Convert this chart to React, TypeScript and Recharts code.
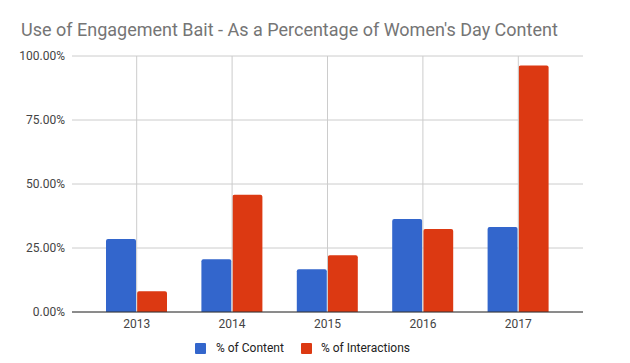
import React from "react";
import { BarChart, Bar, XAxis, YAxis, CartesianGrid, Legend, ReferenceLine } from "recharts";

const years = ["2013", "2014", "2015", "2016", "2017"];
const pctContent = [28.5, 20.6, 16.7, 36.3, 33.2];
const pctInteractions = [8.1, 45.8, 22.2, 32.4, 96.3];
const yTicks = [0, 25, 50, 75, 100];

const data = years.map((y, i) => ({
  year: y,
  content: pctContent[i],
  interactions: pctInteractions[i],
}));

const FONT = "Roboto, 'Noto Sans', Arial, sans-serif";
const BLUE = "#3366cc";
const RED = "#dc3912";

const LegendContent = () => (
  <div
    style={{
      display: "flex",
      alignItems: "center",
      height: 20,
      paddingLeft: 195,
      fontFamily: FONT,
      fontSize: 12,
      color: "#222",
    }}
  >
    <span style={{ width: 11, height: 11, background: BLUE, borderRadius: 1, display: "inline-block" }} />
    <span style={{ marginLeft: 10, marginRight: 17 }}>% of Content</span>
    <span style={{ width: 11, height: 11, background: RED, borderRadius: 1, display: "inline-block" }} />
    <span style={{ marginLeft: 9 }}>% of Interactions</span>
  </div>
);

export default function App() {
  return (
    <div style={{ position: "absolute", left: 0, top: 0, width: 630, height: 363, background: "#fff" }}>
      <div
        style={{
          position: "absolute",
          left: 21,
          top: 18,
          fontFamily: FONT,
          fontSize: 18,
          color: "#757575",
          whiteSpace: "nowrap",
          lineHeight: "24px",
        }}
      >
        Use of Engagement Bait - As a Percentage of Women's Day Content
      </div>
      <BarChart
        width={630}
        height={363}
        data={data}
        margin={{ top: 56, right: 47, bottom: 1, left: 0 }}
        barSize={30}
        barGap={1}
      >
        <CartesianGrid stroke="#cccccc" strokeWidth={1} vertical={false} />
        {years.map((y) => (
          <ReferenceLine key={y} x={y} stroke="#cccccc" strokeWidth={1} />
        ))}
        <XAxis
          dataKey="year"
          height={30}
          padding={{ left: 17, right: 17 }}
          axisLine={{ stroke: "#333333", strokeWidth: 1 }}
          tickLine={false}
          tickSize={0}
          tickMargin={7}
          tick={{ fontFamily: FONT, fontSize: 12, fill: "#444444" }}
        />
        <YAxis
          width={72}
          domain={[0, 100]}
          ticks={yTicks}
          tickFormatter={(v: number) => `${v.toFixed(2)}%`}
          axisLine={false}
          tickLine={false}
          tickSize={0}
          tickMargin={7}
          tick={{ fontFamily: FONT, fontSize: 12, fill: "#444444" }}
        />
        <Legend verticalAlign="bottom" height={20} content={<LegendContent />} wrapperStyle={{ bottom: 5, left: 0, width: 630 }} />
        <Bar dataKey="content" name="% of Content" fill={BLUE} radius={[2, 2, 0, 0]} isAnimationActive={false} />
        <Bar dataKey="interactions" name="% of Interactions" fill={RED} radius={[2, 2, 0, 0]} isAnimationActive={false} />
      </BarChart>
    </div>
  );
}
